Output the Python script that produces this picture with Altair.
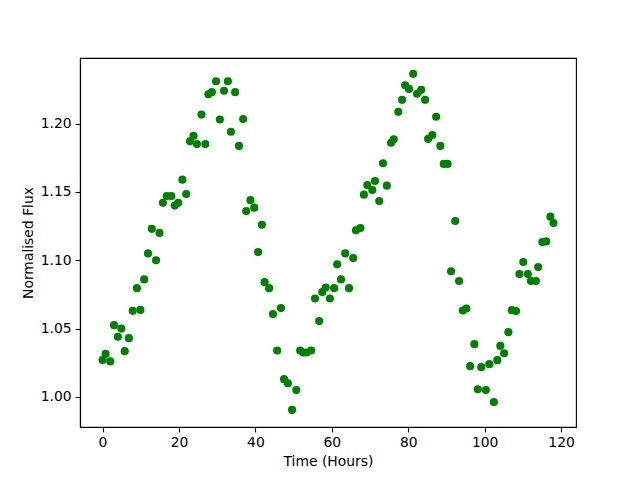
import altair as alt
import pandas as pd

time_hours = [0.0, 0.8, 2.0, 3.0, 4.0, 4.9, 5.8, 6.9, 7.9, 9.0, 9.9, 10.9, 11.9, 12.9, 14.0, 14.9,
              15.8, 16.8, 18.0, 18.9, 19.8, 20.9, 21.9, 22.9, 23.8, 24.7, 25.9, 26.9, 27.7, 28.6,
              29.7, 30.7, 31.8, 32.8, 33.6, 34.7, 35.7, 36.8, 37.6, 38.7, 39.7, 40.7, 41.7, 42.4,
              43.6, 44.6, 45.7, 46.7, 47.5, 48.5, 49.6, 50.7, 51.7, 52.5, 53.4, 54.6, 55.6, 56.7,
              57.5, 58.4, 59.5, 60.6, 61.4, 62.4, 63.5, 64.5, 65.6, 66.3, 67.5, 68.4, 69.3, 70.6,
              71.3, 72.4, 73.4, 74.4, 75.5, 76.2, 77.4, 78.4, 79.2, 80.2, 81.3, 82.3, 83.4, 84.4,
              85.2, 86.3, 87.3, 88.4, 89.3, 90.3, 91.2, 92.3, 93.3, 94.3, 95.2, 96.2, 97.3, 98.2,
              99.1, 100.3, 101.2, 102.4, 103.3, 104.1, 105.1, 106.2, 107.1, 108.2, 109.1, 110.1,
              111.3, 112.1, 113.4, 114.0, 115.1, 116.1, 117.2, 118.0]

flux = [1.027, 1.0315, 1.026, 1.0525, 1.044, 1.050, 1.0335, 1.043, 1.063, 1.0796, 1.0637, 1.086,
        1.105, 1.123, 1.100, 1.120, 1.142, 1.147, 1.147, 1.140, 1.142, 1.159, 1.1485, 1.187,
        1.191, 1.185, 1.2066, 1.185, 1.2215, 1.223, 1.231, 1.203, 1.224, 1.231, 1.194, 1.223,
        1.1837, 1.2034, 1.136, 1.144, 1.1385, 1.106, 1.126, 1.084, 1.0796, 1.0606, 1.034, 1.065,
        1.013, 1.010, 0.9905, 1.005, 1.034, 1.0325, 1.0325, 1.034, 1.072, 1.0555, 1.0767, 1.080,
        1.072, 1.0796, 1.097, 1.086, 1.105, 1.0796, 1.1016, 1.122, 1.1236, 1.148, 1.155, 1.1514,
        1.158, 1.1434, 1.171, 1.1546, 1.186, 1.1885, 1.2086, 1.2174, 1.228, 1.2254, 1.2364,
        1.2218, 1.2247, 1.2174, 1.1888, 1.1917, 1.205, 1.1837, 1.1705, 1.1705, 1.092, 1.1287,
        1.0848, 1.0632, 1.0647, 1.0225, 1.0386, 1.0056, 1.0218, 1.0051, 1.024, 0.9963, 1.0269,
        1.0374, 1.032, 1.0474, 1.0635, 1.0628, 1.0899, 1.0987, 1.0899, 1.0848, 1.0848, 1.095,
        1.1133, 1.1138, 1.1319, 1.1272]

x_ticks = [0, 20, 40, 60, 80, 100, 120]
y_ticks = [1.00, 1.05, 1.10, 1.15, 1.20]

df = pd.DataFrame({"t": time_hours, "f": flux})

chart = alt.Chart(df).mark_circle(size=66, opacity=1, color="#008000").encode(
    x=alt.X("t:Q", title="Time (Hours)",
            scale=alt.Scale(domain=[-5.9, 123.9], nice=False, zero=False),
            axis=alt.Axis(values=x_ticks, format="d")),
    y=alt.Y("f:Q", title="Normalised Flux",
            scale=alt.Scale(domain=[0.978, 1.248], nice=False, zero=False),
            axis=alt.Axis(values=y_ticks, format=".2f")),
).properties(
    width=496, height=369,
    autosize=alt.AutoSizeParams(type="none"),
    padding={"left": 72, "top": 50, "right": 56, "bottom": 45},
).configure_view(
    stroke="black", strokeWidth=1.1
).configure_axis(
    grid=False,
    domainColor="black", domainWidth=1.1,
    tickColor="black", tickWidth=1.1, tickSize=4.9,
    labelColor="black", labelFont="DejaVu Sans", labelFontSize=13.9, labelPadding=4,
    titleColor="black", titleFont="DejaVu Sans", titleFontSize=13.9, titleFontWeight="normal",
    titlePadding=5,
)

chart.save("out.html", embed_options={"renderer": "svg", "actions": False})
